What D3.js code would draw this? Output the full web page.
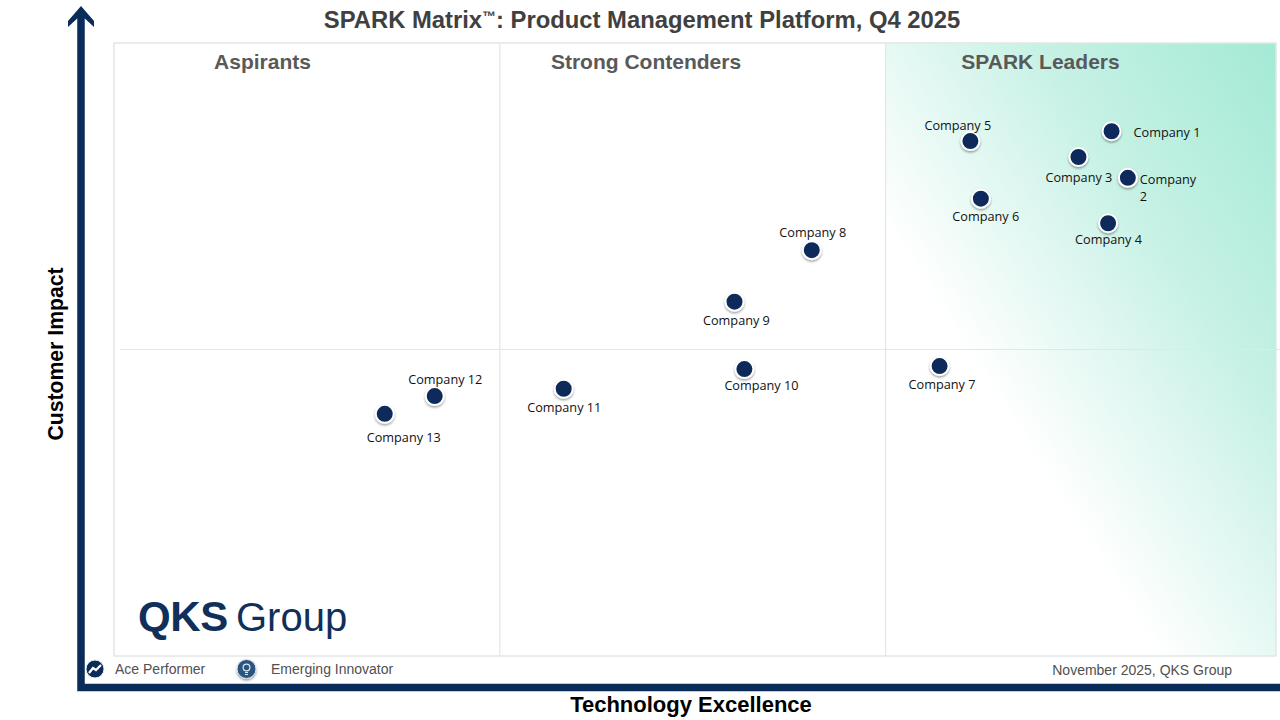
<!DOCTYPE html>
<html>
<head>
<meta charset="utf-8">
<script src="https://cdn.jsdelivr.net/npm/d3@7"></script>
<style>
  html, body { margin: 0; padding: 0; background: #fff; }
  svg { display: block; }
  text { font-family: "Liberation Sans", Arial, sans-serif; }
  .company { font-family: "Open Sans", sans-serif; font-size: 12.7px; fill: #111; }
</style>
</head>
<body>
<svg id="chart"></svg>
<script>
const title = "SPARK Matrix";
const titleRest = ": Product Management Platform, Q4 2025";
const xTitle = "Technology Excellence";
const yTitle = "Customer Impact";
const footNote = "November 2025, QKS Group";

const quadrants = ["Aspirants", "Strong Contenders", "SPARK Leaders"];
const companies = ["Company 1", "Company 2", "Company 3", "Company 4", "Company 5", "Company 6", "Company 7",
  "Company 8", "Company 9", "Company 10", "Company 11", "Company 12", "Company 13"];
const technology = [85.85, 87.25, 83.0, 85.55, 73.7, 74.6, 71.05, 60.05, 53.4, 54.25, 38.7, 27.6, 23.3];
const impact = [85.6, 78.0, 81.4, 70.6, 84.0, 74.6, 47.3, 66.2, 57.8, 46.8, 43.6, 42.4, 39.5];

const xSplits = [33.2, 66.4];
const ySplit = 50;

const width = 1280;
const height = 720;
const navy = "#0a2c5a";

const xScale = d3.scaleLinear().domain([0, 100]).range([114, 1276]);
const yScale = d3.scaleLinear().domain([0, 100]).range([656, 43]);

const svg = d3.select("#chart").attr("width", width).attr("height", height);
const defs = svg.append("defs");

// leaders quadrant fades out towards the lower left
const grad = defs.append("linearGradient").attr("id", "leaders")
  .attr("x1", 1).attr("y1", 0).attr("x2", 0).attr("y2", 1);
grad.append("stop").attr("offset", 0).attr("stop-color", "#a3ead5");
grad.append("stop").attr("offset", 0.3).attr("stop-color", "#c6f1e5");
grad.append("stop").attr("offset", 0.65).attr("stop-color", "#ffffff");

const shadow = defs.append("filter").attr("id", "shadow")
  .attr("x", "-50%").attr("y", "-50%").attr("width", "200%").attr("height", "200%");
shadow.append("feDropShadow").attr("dx", 0).attr("dy", 1.5).attr("stdDeviation", 1.2)
  .attr("flood-color", "#000").attr("flood-opacity", 0.4);

// plot frame and quadrants
svg.append("rect")
  .attr("x", xScale(xSplits[1])).attr("y", yScale(100))
  .attr("width", xScale(100) - xScale(xSplits[1])).attr("height", yScale(0) - yScale(100))
  .attr("fill", "url(#leaders)");
svg.append("rect")
  .attr("x", xScale(0)).attr("y", yScale(100))
  .attr("width", xScale(100) - xScale(0)).attr("height", yScale(0) - yScale(100))
  .attr("fill", "none").attr("stroke", "#e4e6e6").attr("stroke-width", 1.5);

svg.selectAll(".vsplit").data(xSplits).join("line")
  .attr("class", "vsplit")
  .attr("x1", d => xScale(d)).attr("x2", d => xScale(d))
  .attr("y1", yScale(100)).attr("y2", yScale(0))
  .attr("stroke", "#e4e6e6").attr("stroke-width", 1.2);
svg.append("line")
  .attr("x1", 120).attr("x2", 1280)
  .attr("y1", yScale(ySplit)).attr("y2", yScale(ySplit))
  .attr("stroke", "#e4e6e6").attr("stroke-width", 1.2);

// axes arrow
svg.append("path")
  .attr("d", "M81 12V687.5H1280")
  .attr("fill", "none").attr("stroke", navy).attr("stroke-width", 7.5);
svg.append("path")
  .attr("d", "M81 6L94 21V27L81 15L68 27V21Z")
  .attr("fill", navy);

// titles
const t = svg.append("text").attr("x", 642).attr("y", 28).attr("text-anchor", "middle")
  .attr("font-size", 23.8).attr("font-weight", "bold").attr("fill", "#404040");
t.append("tspan").text(title);
t.append("tspan").text("\u2122").attr("font-size", 14).attr("dy", -7);
t.append("tspan").text(titleRest).attr("dy", 7);

const quadLabelX = [262.5, 646, 1040.5];
svg.selectAll(".quad").data(quadrants).join("text")
  .attr("class", "quad")
  .attr("x", (d, i) => quadLabelX[i]).attr("y", 69)
  .attr("text-anchor", "middle")
  .attr("font-size", 21).attr("font-weight", "bold").attr("fill", "#595959")
  .text(d => d);

svg.append("text").attr("x", 691).attr("y", 712).attr("text-anchor", "middle")
  .attr("font-size", 22).attr("font-weight", "bold").attr("fill", "#000").text(xTitle);
svg.append("text").attr("transform", "translate(63,354) rotate(-90)").attr("text-anchor", "middle")
  .attr("font-size", 21.2).attr("font-weight", "bold").attr("fill", "#000").text(yTitle);

// company dots
const dots = companies.map((name, i) => ({ name, x: technology[i], y: impact[i] }));
svg.selectAll(".dot").data(dots).join("circle")
  .attr("class", "dot")
  .attr("cx", d => xScale(d.x)).attr("cy", d => yScale(d.y))
  .attr("r", 9)
  .attr("fill", navy).attr("stroke", "#fff").attr("stroke-width", 2)
  .attr("filter", "url(#shadow)");

// hand placed labels, same order as companies: left edge and middle relative to the dot
const labelOffset = [[22, 1], [12, 2], [-33, 21], [-33, 16], [-46, -16], [-28.5, 18], [-31, 19],
  [-32.5, -18], [-31.5, 19], [-20, 16], [-36.5, 18.5], [-26.5, -17], [-18, 24]];

svg.selectAll(".company").data(dots).join("text")
  .attr("class", "company")
  .attr("x", (d, i) => xScale(d.x) + labelOffset[i][0])
  .attr("y", (d, i) => yScale(d.y) + labelOffset[i][1])
  .attr("dy", "0.35em")
  .each(function (d) {
    // Company 2 wraps on two lines in the original
    const sel = d3.select(this);
    if (d.name === "Company 2") {
      const x = sel.attr("x");
      sel.append("tspan").text("Company");
      sel.append("tspan").attr("x", x).attr("dy", 17).text("2");
    } else {
      sel.text(d.name);
    }
  });

// logo
svg.append("text").attr("x", 138).attr("y", 631).attr("fill", "#10305a")
  .attr("font-family", "Inter").attr("font-weight", 900)
  .attr("font-size", 42).attr("letter-spacing", -0.4).text("QKS");
svg.append("text").attr("x", 236).attr("y", 631).attr("fill", "#10305a")
  .attr("font-family", "Lato").attr("font-weight", 300).attr("font-size", 40).text("Group");

// legend
const legendNames = ["Ace Performer", "Emerging Innovator"];
const legendIconX = [95, 246.5];
const legendTextX = [115, 271];
svg.selectAll(".legend-label").data(legendNames).join("text")
  .attr("class", "legend-label")
  .attr("x", (d, i) => legendTextX[i]).attr("y", 674)
  .attr("font-size", 14).attr("fill", "#505050")
  .text(d => d);

svg.append("circle").attr("cx", legendIconX[0]).attr("cy", 669).attr("r", 9)
  .attr("fill", navy).attr("stroke", "#e8ecf0").attr("stroke-width", 1);
svg.append("path").attr("d", "M89 673L93 668L96 670L101 665")
  .attr("fill", "none").attr("stroke", "#fff").attr("stroke-width", 2.2);

svg.append("circle").attr("cx", legendIconX[1]).attr("cy", 669).attr("r", 9.5)
  .attr("fill", "#2a5580").attr("stroke", "#dfe6ec").attr("stroke-width", 1).attr("filter", "url(#shadow)");
svg.append("circle").attr("cx", legendIconX[1]).attr("cy", 667.5).attr("r", 3.4)
  .attr("fill", "none").attr("stroke", "#dce8f2").attr("stroke-width", 1.2);
svg.append("path").attr("d", "M245 672.5H248M245 674.5H248")
  .attr("stroke", "#dce8f2").attr("stroke-width", 1);

svg.append("text").attr("x", 1232).attr("y", 675).attr("text-anchor", "end")
  .attr("font-size", 14).attr("fill", "#505050").text(footNote);
</script>
</body>
</html>
